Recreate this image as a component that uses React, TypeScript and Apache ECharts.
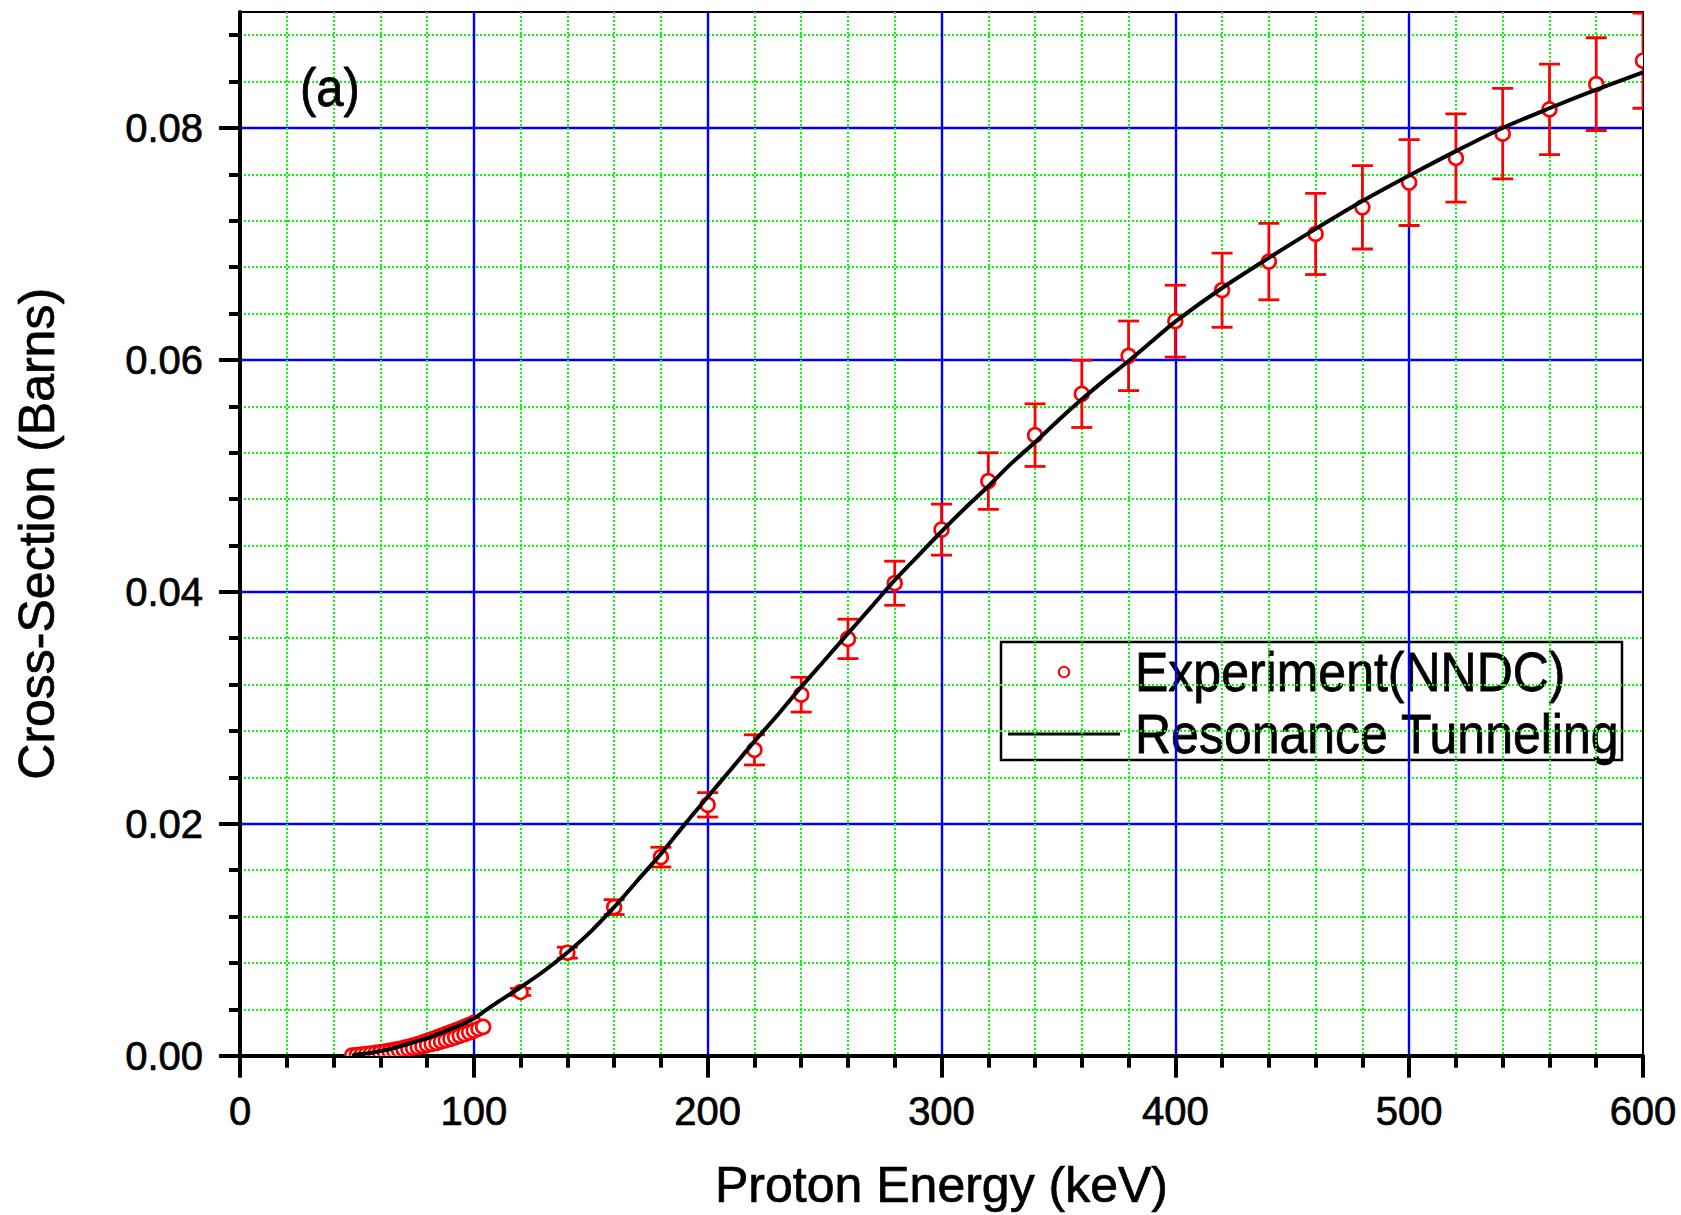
import React, { useEffect, useRef } from 'react';
import * as echarts from 'echarts';

// ---------- data ----------
// Sparse experimental points (NNDC) with error bars
const expEnergy = [120, 140, 160, 180, 200, 220, 240, 260, 280, 300, 320, 340, 360, 380, 400, 420, 440, 460, 480, 500, 520, 540, 560, 580, 600];
const expSigma = [0.00549, 0.00888, 0.01281, 0.01712, 0.02163, 0.02637, 0.03113, 0.03594, 0.04074, 0.04536, 0.04955, 0.05351, 0.05707, 0.06035, 0.06334, 0.06601, 0.06848, 0.07086, 0.07316, 0.07529, 0.07741, 0.07951, 0.0816, 0.08378, 0.0858];
const expError = [0.0003, 0.00047, 0.00064, 0.00085, 0.00105, 0.0013, 0.0015, 0.0017, 0.0019, 0.0022, 0.00244, 0.0027, 0.0029, 0.003, 0.0031, 0.0032, 0.0033, 0.0035, 0.0036, 0.0037, 0.0038, 0.0039, 0.0039, 0.004, 0.0041];

// Dense low-energy experimental points (two overlapping bands)
const denseEnergyA = [48, 50, 52, 54, 56, 58, 60, 62, 64, 66, 68, 70, 72, 74, 76, 78, 80, 82, 84, 86, 88, 90, 92, 94, 96, 98, 100];
const denseSigmaA = [0.00002, 0.00006, 0.0001, 0.00014, 0.00019, 0.00024, 0.0003, 0.00036, 0.00043, 0.0005, 0.00058, 0.00067, 0.00077, 0.00088, 0.001, 0.00113, 0.00127, 0.00141, 0.00156, 0.00171, 0.00186, 0.00201, 0.00216, 0.00232, 0.00248, 0.00265, 0.00283];
const denseEnergyB = [60, 62, 64, 66, 68, 70, 72, 74, 76, 78, 80, 82, 84, 86, 88, 90, 92, 94, 96, 98, 100, 102, 104];
const denseSigmaB = [0.00026, 0.0003, 0.00035, 0.0004, 0.00046, 0.00052, 0.00059, 0.00066, 0.00074, 0.00083, 0.00092, 0.00101, 0.00111, 0.00122, 0.00133, 0.00145, 0.00158, 0.00172, 0.00186, 0.00201, 0.00216, 0.00232, 0.00248];

// Resonance tunneling curve
const curveEnergy = [48, 50, 55, 60, 65, 70, 75, 80, 85, 90, 95, 100, 105, 110, 120, 130, 140, 150, 160, 170, 180, 190, 200, 210, 220, 230, 240, 250, 260, 270, 280, 290, 300, 310, 320, 330, 340, 350, 360, 370, 380, 390, 400, 420, 440, 460, 480, 500, 520, 540, 560, 580, 600];
const curveSigma = [0, 0.0001, 0.0002, 0.0004, 0.0006, 0.0009, 0.0012, 0.0015, 0.0019, 0.0023, 0.0027, 0.0032, 0.0039, 0.0046, 0.0059, 0.0073, 0.0089, 0.0107, 0.0128, 0.0151, 0.0174, 0.0199, 0.0223, 0.0247, 0.0271, 0.0294, 0.0318, 0.0341, 0.0364, 0.0387, 0.041, 0.0431, 0.0452, 0.0472, 0.0491, 0.0511, 0.0529, 0.0548, 0.0566, 0.0583, 0.0599, 0.0616, 0.0633, 0.0662, 0.0688, 0.0713, 0.0737, 0.0759, 0.078, 0.08, 0.0817, 0.0833, 0.0848];

// Axis ticks
const yMajorTicks = [0, 0.02, 0.04, 0.06, 0.08];
const yMinorTicks = [0, 0.004, 0.008, 0.012, 0.016, 0.02, 0.024, 0.028, 0.032, 0.036, 0.04, 0.044, 0.048, 0.052, 0.056, 0.06, 0.064, 0.068, 0.072, 0.076, 0.08, 0.084, 0.088];

const xTitle = 'Proton Energy (keV)';
const yTitle = 'Cross-Section (Barns)';
const legendExp = 'Experiment(NNDC)';
const legendFit = 'Resonance Tunneling';
const panelLabel = '(a)';

const FONT = "'Liberation Sans', Arial, Helvetica, sans-serif";
const RED = '#ff0000';
const BLUE = '#0000ff';
const GREEN = '#00ff00';
const DOT: number[] = [2, 2];
const TXT_BORDER = { textBorderColor: '#000', textBorderWidth: 0.7 };

function makePointRenderer(withErr: boolean) {
  return (params: any, api: any) => {
    const x = api.value(0);
    const y = api.value(1);
    const c = api.coord([x, y]);
    const children: any[] = [];
    if (withErr) {
      const e = api.value(2);
      const t = api.coord([x, y + e]);
      const b = api.coord([x, y - e]);
      const hw = 10.5;
      const st = { stroke: RED, lineWidth: 2.8 };
      children.push({ type: 'line', shape: { x1: t[0], y1: t[1], x2: b[0], y2: b[1] }, style: st });
      children.push({ type: 'line', shape: { x1: t[0] - hw, y1: t[1], x2: t[0] + hw, y2: t[1] }, style: st });
      children.push({ type: 'line', shape: { x1: b[0] - hw, y1: b[1], x2: b[0] + hw, y2: b[1] }, style: st });
    }
    children.push({
      type: 'circle',
      shape: { cx: c[0], cy: c[1], r: 6.9 },
      style: { fill: '#ffffff', stroke: RED, lineWidth: 2.6 },
    });
    return { type: 'group', children };
  };
}

export default function App() {
  const ref = useRef<HTMLDivElement>(null);

  useEffect(() => {
    if (!ref.current) return;
    const chart = echarts.init(ref.current, null, { renderer: 'svg' });

    const expData = expEnergy.map((e, i) => [e, expSigma[i], expError[i]]);
    const denseA = denseEnergyA.map((e, i) => [e, denseSigmaA[i]]);
    const denseB = denseEnergyB.map((e, i) => [e, denseSigmaB[i]]);
    const curve = curveEnergy.map((e, i) => [e, curveSigma[i]]);

    const option: any = {
      animation: false,
      backgroundColor: '#ffffff',
      textStyle: { fontFamily: FONT },
      grid: {
        left: 240,
        right: 38,
        top: 12,
        bottom: 158,
        show: true,
        borderColor: '#000',
        borderWidth: 2,
        backgroundColor: 'transparent',
        containLabel: false,
      },
      xAxis: {
        type: 'value',
        min: 0,
        max: 600,
        interval: 100,
        z: 1,
        axisLine: { show: true, onZero: false, lineStyle: { color: '#000', width: 4 } },
        axisTick: { show: true, inside: false, length: 22, lineStyle: { color: '#000', width: 4 } },
        minorTick: { show: true, splitNumber: 5, length: 12, lineStyle: { color: '#000', width: 4 } },
        splitLine: { show: true, showMinLine: false, showMaxLine: false, lineStyle: { color: BLUE, width: 2.4 } },
        minorSplitLine: { show: true, lineStyle: { color: GREEN, width: 2, type: DOT } },
        axisLabel: { fontSize: 40, color: '#000', margin: 35, fontFamily: FONT, ...TXT_BORDER },
        name: xTitle,
        nameLocation: 'middle',
        nameGap: 104,
        nameTextStyle: { fontSize: 50, color: '#000', fontFamily: FONT, ...TXT_BORDER },
      },
      yAxis: [
        {
          type: 'value',
          min: 0,
          max: 0.09,
          interval: 0.02,
          position: 'left',
          z: 1,
          axisLine: { show: true, onZero: false, lineStyle: { color: '#000', width: 4 } },
          axisTick: { show: true, inside: false, length: 21, lineStyle: { color: '#000', width: 4 }, customValues: yMajorTicks },
          axisLabel: {
            fontSize: 40,
            color: '#000',
            margin: 37,
            fontFamily: FONT,
            ...TXT_BORDER,
            customValues: yMajorTicks,
            formatter: (v: number) => v.toFixed(2),
          },
          splitLine: { show: true, showMinLine: false, lineStyle: { color: BLUE, width: 2.4 } },
          name: yTitle,
          nameLocation: 'middle',
          nameGap: 178,
          nameTextStyle: { fontSize: 50, color: '#000', fontFamily: FONT, ...TXT_BORDER },
        },
        {
          type: 'value',
          min: 0,
          max: 0.09,
          interval: 0.004,
          position: 'left',
          z: 0,
          axisLine: { show: false },
          axisTick: { show: true, inside: false, length: 11, lineStyle: { color: '#000', width: 4 }, customValues: yMinorTicks },
          axisLabel: { show: false },
          splitLine: {
            show: true,
            lineStyle: { color: ['rgba(0,0,0,0)', GREEN, GREEN, GREEN, GREEN], width: 2, type: DOT },
          },
        },
      ],
      series: [
        {
          type: 'custom',
          name: legendExp,
          xAxisIndex: 0,
          yAxisIndex: 0,
          clip: true,
          z: 3,
          renderItem: makePointRenderer(false),
          encode: { x: 0, y: 1 },
          data: denseA,
        },
        {
          type: 'custom',
          name: legendExp,
          xAxisIndex: 0,
          yAxisIndex: 0,
          clip: true,
          z: 3,
          renderItem: makePointRenderer(false),
          encode: { x: 0, y: 1 },
          data: denseB,
        },
        {
          type: 'custom',
          name: legendExp,
          xAxisIndex: 0,
          yAxisIndex: 0,
          clip: true,
          z: 3,
          renderItem: makePointRenderer(true),
          encode: { x: 0, y: 1 },
          data: expData,
        },
        {
          type: 'line',
          name: legendFit,
          xAxisIndex: 0,
          yAxisIndex: 0,
          smooth: 0.3,
          showSymbol: false,
          symbol: 'none',
          z: 5,
          lineStyle: { color: '#000', width: 4 },
          data: curve,
        },
      ],
      graphic: [
        {
          type: 'text',
          x: 300,
          y: 88,
          z: 10,
          scaleY: 1.08,
          style: { text: panelLabel, fontSize: 49, fontFamily: FONT, fill: '#000', verticalAlign: 'middle', align: 'left', stroke: '#000', lineWidth: 0.7 },
        },
        {
          type: 'group',
          z: 20,
          children: [
            {
              type: 'rect',
              shape: { x: 1001, y: 642, width: 621, height: 118 },
              style: { fill: '#ffffff', stroke: '#000', lineWidth: 2.5 },
            },
            {
              type: 'circle',
              shape: { cx: 1064, cy: 672, r: 5.2 },
              style: { fill: '#ffffff', stroke: RED, lineWidth: 2 },
            },
            {
              type: 'text',
              x: 1135,
              y: 672,
              scaleY: 1.1,
              style: { text: legendExp, fontSize: 50, fontFamily: FONT, fill: '#000', verticalAlign: 'middle', align: 'left', stroke: '#000', lineWidth: 0.7 },
            },
            {
              type: 'line',
              shape: { x1: 1008, y1: 734, x2: 1120, y2: 734 },
              style: { stroke: '#000', lineWidth: 3 },
            },
            {
              type: 'text',
              x: 1135,
              y: 734,
              scaleY: 1.1,
              style: { text: legendFit, fontSize: 50, fontFamily: FONT, fill: '#000', verticalAlign: 'middle', align: 'left', stroke: '#000', lineWidth: 0.7 },
            },
          ],
        },
      ],
    };

    chart.setOption(option);
    return () => {
      chart.dispose();
    };
  }, []);

  return (
    <div
      ref={ref}
      style={{ position: 'absolute', left: 0, top: 0, width: 1681, height: 1215, background: '#fff' }}
    />
  );
}
